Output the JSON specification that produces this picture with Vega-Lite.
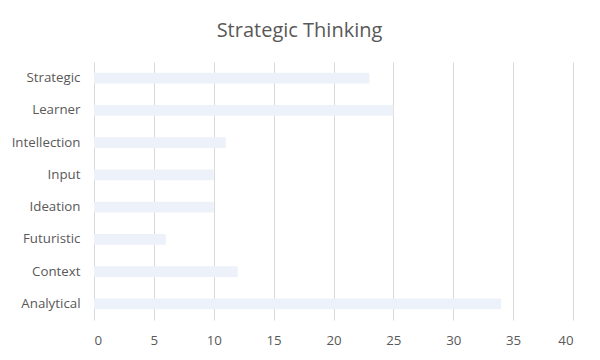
{
  "$schema": "https://vega.github.io/schema/vega-lite/v6.json",
  "autosize": {"type": "none"},
  "padding": {"left": 94, "top": 62, "right": 27, "bottom": 40},
  "width": 479,
  "height": 258,
  "background": "white",
  "title": {
    "text": "Strategic Thinking",
    "font": "Open Sans",
    "fontSize": 20,
    "fontWeight": "normal",
    "color": "#595959",
    "offset": 21,
    "dx": -34
  },
  "data": {
    "values": [
      {"theme": "Strategic", "count": 23},
      {"theme": "Learner", "count": 25},
      {"theme": "Intellection", "count": 11},
      {"theme": "Input", "count": 10},
      {"theme": "Ideation", "count": 10},
      {"theme": "Futuristic", "count": 6},
      {"theme": "Context", "count": 12},
      {"theme": "Analytical", "count": 34}
    ]
  },
  "mark": {"type": "bar", "color": "#edf1f9"},
  "encoding": {
    "y": {
      "field": "theme",
      "type": "nominal",
      "sort": null,
      "title": null,
      "scale": {"paddingInner": 0.67, "paddingOuter": 0.335},
      "axis": {
        "domain": false,
        "ticks": false,
        "labelPadding": 14,
        "labelFont": "Open Sans",
        "labelFontSize": 13.3,
        "labelColor": "#595959"
      }
    },
    "x": {
      "field": "count",
      "type": "quantitative",
      "title": null,
      "scale": {"domain": [0, 40], "nice": false},
      "axis": {
        "values": [0, 5, 10, 15, 20, 25, 30, 35, 40],
        "domain": false,
        "ticks": false,
        "grid": true,
        "gridColor": "#d9d9d9",
        "gridWidth": 1,
        "labelPadding": 13,
        "labelFont": "Open Sans",
        "labelFontSize": 13.3,
        "labelColor": "#595959"
      }
    }
  },
  "config": {"view": {"stroke": null}}
}
